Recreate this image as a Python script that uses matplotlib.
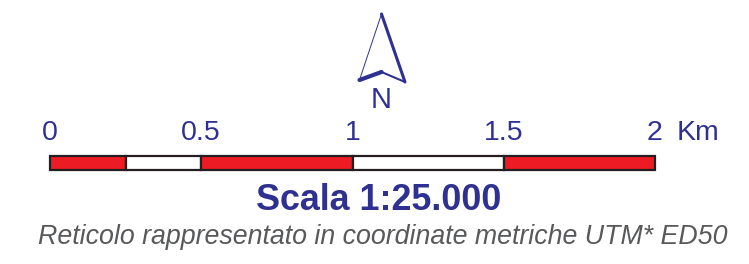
import matplotlib.pyplot as plt
from matplotlib.patches import Rectangle

# scale bar data (km)
seg_edges = [0, 0.25, 0.5, 1.0, 1.5, 2.0]
seg_colors = ["#ed1c24", "white", "#ed1c24", "white", "#ed1c24"]
tick_vals = [0, 0.5, 1, 1.5, 2]
tick_labels = ["0", "0.5", "1", "1.5", "2"]
unit = "Km"
title = "Scala 1:25.000"
subtitle = "Reticolo rappresentato in coordinate metriche UTM* ED50"

blue = "#2e3192"
px_per_km = 302.5
x0 = 50

def kx(v):
    return x0 + v * px_per_km

fig = plt.figure(figsize=(7.49, 2.64), dpi=100)
ax = fig.add_axes([0, 0, 1, 1])
ax.set_xlim(0, 749)
ax.set_ylim(264, 0)
ax.axis("off")

# bar segments
for i in range(len(seg_colors)):
    a, b = seg_edges[i], seg_edges[i + 1]
    ax.add_patch(Rectangle((kx(a), 156), kx(b) - kx(a), 13.5,
                           facecolor=seg_colors[i], edgecolor="#231f20", lw=1.6))

for v, lab in zip(tick_vals, tick_labels):
    ax.text(kx(v), 133.5, lab, ha="center", va="center", color=blue,
            fontsize=20.5, family="Liberation Sans")
ax.text(kx(2) + 22, 133.5, unit, ha="left", va="center", color=blue,
        fontsize=20.5, family="Liberation Sans")

ax.text(379, 201, title, ha="center", va="center", color=blue,
        fontsize=25.8, fontweight="bold", family="Liberation Sans")
ax.text(383, 237, subtitle, ha="center", va="center", color="#58595b",
        fontsize=19.3, style="italic", family="Liberation Sans")

# north arrow
tip, lb, notch, rb = (381.5, 14), (359.5, 80), (381.5, 72), (405, 82)
ax.plot([tip[0], lb[0]], [tip[1], lb[1]], color=blue, lw=0.7, solid_capstyle="round")
ax.plot([lb[0], notch[0]], [lb[1], notch[1]], color=blue, lw=3.0, solid_capstyle="round")
ax.plot([notch[0], rb[0]], [notch[1], rb[1]], color=blue, lw=1.5, solid_capstyle="round")
ax.plot([rb[0], tip[0]], [rb[1], tip[1]], color=blue, lw=2.2, solid_capstyle="round")
ax.text(381.5, 100.5, "N", ha="center", va="center", color=blue,
        fontsize=21, family="Liberation Sans")

fig.savefig("out.png", dpi=100)
